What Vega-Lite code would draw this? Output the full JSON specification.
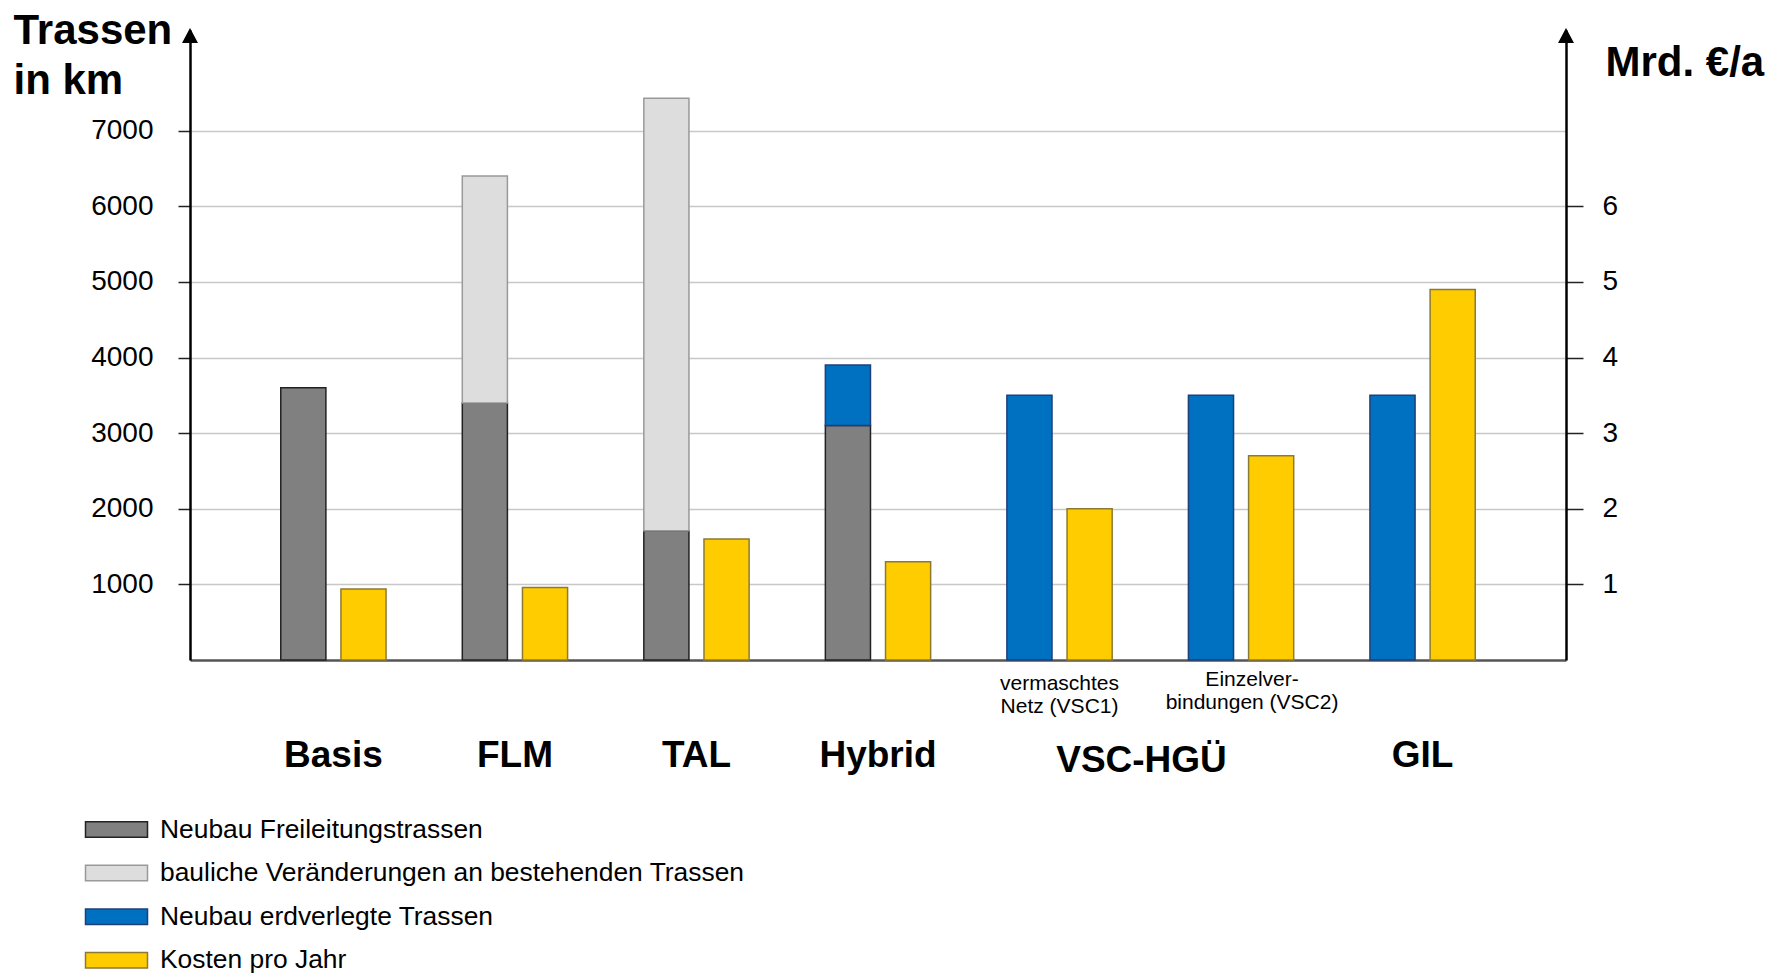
{
  "$schema": "https://vega.github.io/schema/vega-lite/v6.json",
  "width": 1376,
  "height": 630,
  "autosize": {"type": "none"},
  "padding": {"left": 190, "top": 30, "right": 203, "bottom": 319},
  "background": "white",
  "config": {
    "font": "Liberation Sans",
    "view": {"stroke": null}
  },
  "datasets": {
    "trassen": [
      {"gruppe": "Basis", "seite": "km", "serie": "Neubau Freileitungstrassen", "wert": 3600},
      {"gruppe": "FLM", "seite": "km", "serie": "Neubau Freileitungstrassen", "wert": 3400},
      {"gruppe": "FLM", "seite": "km", "serie": "bauliche Veränderungen an bestehenden Trassen", "wert": 3000},
      {"gruppe": "TAL", "seite": "km", "serie": "Neubau Freileitungstrassen", "wert": 1710},
      {"gruppe": "TAL", "seite": "km", "serie": "bauliche Veränderungen an bestehenden Trassen", "wert": 5720},
      {"gruppe": "Hybrid", "seite": "km", "serie": "Neubau Freileitungstrassen", "wert": 3100},
      {"gruppe": "Hybrid", "seite": "km", "serie": "Neubau erdverlegte Trassen", "wert": 800},
      {"gruppe": "VSC1", "seite": "km", "serie": "Neubau erdverlegte Trassen", "wert": 3500},
      {"gruppe": "VSC2", "seite": "km", "serie": "Neubau erdverlegte Trassen", "wert": 3500},
      {"gruppe": "GIL", "seite": "km", "serie": "Neubau erdverlegte Trassen", "wert": 3500}
    ],
    "kosten": [
      {"gruppe": "Basis", "seite": "kosten", "serie": "Kosten pro Jahr", "wert": 0.94},
      {"gruppe": "FLM", "seite": "kosten", "serie": "Kosten pro Jahr", "wert": 0.96},
      {"gruppe": "TAL", "seite": "kosten", "serie": "Kosten pro Jahr", "wert": 1.6},
      {"gruppe": "Hybrid", "seite": "kosten", "serie": "Kosten pro Jahr", "wert": 1.3},
      {"gruppe": "VSC1", "seite": "kosten", "serie": "Kosten pro Jahr", "wert": 2.0},
      {"gruppe": "VSC2", "seite": "kosten", "serie": "Kosten pro Jahr", "wert": 2.7},
      {"gruppe": "GIL", "seite": "kosten", "serie": "Kosten pro Jahr", "wert": 4.9}
    ],
    "achsen": [
      {"achse": 0},
      {"achse": 1}
    ]
  },
  "layer": [
    {
      "data": {"name": "trassen"},
      "mark": {"type": "bar", "strokeWidth": 1.5},
      "encoding": {
        "x": {
          "field": "gruppe", "type": "nominal",
          "scale": {"domain": ["Basis", "FLM", "TAL", "Hybrid", "VSC1", "VSC2", "GIL"], "paddingInner": 0.42, "paddingOuter": 0.5},
          "axis": {
            "orient": "bottom", "title": null, "grid": false,
            "domain": true, "domainColor": "#555555", "domainWidth": 2.5,
            "ticks": false, "tickSize": 0,
            "labelExpr": "datum.value == 'VSC1' ? ['vermaschtes', 'Netz (VSC1)'] : datum.value == 'VSC2' ? ['Einzelver-', 'bindungen (VSC2)'] : ''",
            "labelFontSize": 21, "labelLineHeight": 23.5, "labelBaseline": "alphabetic",
            "labelPadding": {"condition": {"test": "datum.value == 'VSC2'", "value": 25}, "value": 29},
            "labelOffset": {"condition": {"test": "datum.value == 'VSC2'", "value": 11}, "value": 0},
            "labelOverlap": false, "labelColor": "black", "labelLimit": 400, "labelAngle": 0
          }
        },
        "xOffset": {
          "field": "seite", "type": "nominal",
          "scale": {"domain": ["km", "kosten"], "paddingInner": 0.25, "paddingOuter": 0}
        },
        "y": {
          "field": "wert", "type": "quantitative", "stack": "zero",
          "scale": {"domain": [0, 8332], "nice": false},
          "axis": {
            "orient": "left", "values": [1000, 2000, 3000, 4000, 5000, 6000, 7000], "format": "d",
            "grid": true, "gridColor": "#c8c8c8", "gridWidth": 1.5,
            "domainColor": "black", "domainWidth": 2.5,
            "tickColor": "#222222", "tickWidth": 1.5, "tickSize": 12,
            "labelFontSize": 28, "labelPadding": 25, "labelColor": "black",
            "title": ["Trassen", "in km"], "titleAngle": 0, "titleAlign": "left", "titleBaseline": "alphabetic",
            "titleX": -177, "titleY": 13, "titleFontSize": 42, "titleFontWeight": "bold",
            "titleLineHeight": 50, "titleColor": "black"
          }
        },
        "color": {
          "field": "serie", "type": "nominal",
          "scale": {
            "domain": ["Neubau Freileitungstrassen", "bauliche Veränderungen an bestehenden Trassen", "Neubau erdverlegte Trassen", "Kosten pro Jahr"],
            "range": ["#808080", "#dddddd", "#0070c0", "#ffcc00"]
          },
          "legend": {
            "title": null, "orient": "none", "legendX": -90, "legendY": 783, "direction": "vertical",
            "symbolType": "M-2,-0.5H2V0.5H-2Z", "symbolSize": 961, "symbolStrokeWidth": 1.5, "symbolOpacity": 1,
            "labelFontSize": 26.4, "labelOffset": 27, "rowPadding": 13.6, "labelLimit": 900, "padding": 0, "labelColor": "black"
          }
        },
        "stroke": {
          "field": "serie", "type": "nominal",
          "scale": {
            "domain": ["Neubau Freileitungstrassen", "bauliche Veränderungen an bestehenden Trassen", "Neubau erdverlegte Trassen", "Kosten pro Jahr"],
            "range": ["#222222", "#999999", "#1f3f7a", "#8c7a34"]
          },
          "legend": {
            "title": null, "orient": "none", "legendX": -90, "legendY": 783, "direction": "vertical",
            "symbolType": "M-2,-0.5H2V0.5H-2Z", "symbolSize": 961, "symbolStrokeWidth": 1.5, "symbolOpacity": 1,
            "labelFontSize": 26.4, "labelOffset": 27, "rowPadding": 13.6, "labelLimit": 900, "padding": 0, "labelColor": "black"
          }
        },
        "order": {"field": "serie", "sort": "ascending"}
      }
    },
    {
      "data": {"name": "kosten"},
      "mark": {"type": "bar", "strokeWidth": 1.5},
      "encoding": {
        "x": {
          "field": "gruppe", "type": "nominal",
          "scale": {"domain": ["Basis", "FLM", "TAL", "Hybrid", "VSC1", "VSC2", "GIL"], "paddingInner": 0.42, "paddingOuter": 0.5},
          "axis": {
            "orient": "bottom", "title": null, "grid": false,
            "domain": false, "ticks": false, "tickSize": 0,
            "labelExpr": "datum.value == 'VSC1' ? 'VSC-HGÜ' : datum.value == 'VSC2' ? '' : datum.value",
            "labelFontSize": 37, "labelFontWeight": "bold", "labelBaseline": "alphabetic",
            "labelPadding": {"condition": {"test": "datum.value == 'VSC1'", "value": 111}, "value": 106.5},
            "labelOffset": {"condition": {"test": "datum.value == 'VSC1'", "value": 82}, "value": 0},
            "labelOverlap": false, "labelColor": "black", "labelLimit": 400, "labelAngle": 0
          }
        },
        "xOffset": {
          "field": "seite", "type": "nominal",
          "scale": {"domain": ["km", "kosten"], "paddingInner": 0.25, "paddingOuter": 0}
        },
        "y": {
          "field": "wert", "type": "quantitative",
          "scale": {"domain": [0, 8.332], "nice": false},
          "axis": {
            "orient": "right", "values": [1, 2, 3, 4, 5, 6], "format": "d", "grid": false,
            "domainColor": "black", "domainWidth": 2.5,
            "tickColor": "#222222", "tickWidth": 1.5, "tickSize": 17,
            "labelFontSize": 28, "labelPadding": 19, "labelColor": "black",
            "title": "Mrd. €/a", "titleAngle": 0, "titleAlign": "left", "titleBaseline": "alphabetic",
            "titleX": 39, "titleY": 45, "titleFontSize": 42, "titleFontWeight": "bold", "titleColor": "black"
          }
        },
        "color": {"field": "serie", "type": "nominal"},
        "stroke": {"field": "serie", "type": "nominal"}
      }
    },
    {
      "data": {"name": "achsen"},
      "mark": {"type": "point", "shape": "M0,-0.16L-0.64,1.04L0.64,1.04Z", "filled": true, "color": "black", "opacity": 1, "size": 625},
      "encoding": {
        "x": {"field": "achse", "type": "quantitative", "scale": {"domain": [0, 1], "nice": false, "zero": false}, "axis": null},
        "y": {"datum": 1, "type": "quantitative", "scale": {"domain": [0, 1], "nice": false}, "axis": null}
      }
    }
  ],
  "resolve": {
    "scale": {"y": "independent", "x": "independent"},
    "axis": {"y": "independent", "x": "independent"}
  }
}
